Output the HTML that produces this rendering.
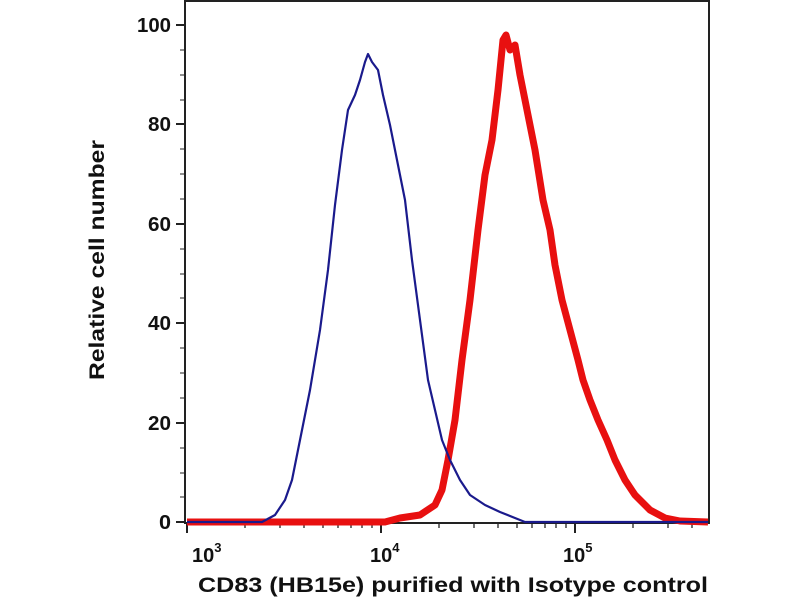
<!DOCTYPE html>
<html><head><meta charset="utf-8"><style>
html,body{margin:0;padding:0;background:#fff;}
svg text{font-family:"Liberation Sans",sans-serif;font-weight:bold;fill:#111;}
</style></head><body>
<svg width="800" height="600" viewBox="0 0 800 600" xmlns="http://www.w3.org/2000/svg">
<rect x="185" y="1" width="524" height="522" fill="none" stroke="#222" stroke-width="2"/>
<g stroke="#222" stroke-width="2">
<line x1="176" y1="25" x2="185" y2="25"/><line x1="176" y1="124" x2="185" y2="124"/>
<line x1="176" y1="224" x2="185" y2="224"/><line x1="176" y1="323" x2="185" y2="323"/>
<line x1="176" y1="423" x2="185" y2="423"/><line x1="176" y1="522" x2="185" y2="522"/>
</g>
<g stroke="#222" stroke-width="1">
<line x1="180" y1="50" x2="185" y2="50"/><line x1="180" y1="75" x2="185" y2="75"/><line x1="180" y1="100" x2="185" y2="100"/>
<line x1="180" y1="149" x2="185" y2="149"/><line x1="180" y1="174" x2="185" y2="174"/><line x1="180" y1="199" x2="185" y2="199"/>
<line x1="180" y1="249" x2="185" y2="249"/><line x1="180" y1="274" x2="185" y2="274"/><line x1="180" y1="298" x2="185" y2="298"/>
<line x1="180" y1="348" x2="185" y2="348"/><line x1="180" y1="373" x2="185" y2="373"/><line x1="180" y1="398" x2="185" y2="398"/>
<line x1="180" y1="448" x2="185" y2="448"/><line x1="180" y1="473" x2="185" y2="473"/><line x1="180" y1="497" x2="185" y2="497"/>
</g>
<g stroke="#222" stroke-width="2">
<line x1="187" y1="523" x2="187" y2="533"/><line x1="381" y1="523" x2="381" y2="533"/><line x1="575" y1="523" x2="575" y2="533"/>
</g>
<g stroke="#222" stroke-width="1.3">
<line x1="245" y1="523" x2="245" y2="528"/><line x1="280" y1="523" x2="280" y2="528"/><line x1="304" y1="523" x2="304" y2="528"/>
<line x1="323" y1="523" x2="323" y2="528"/><line x1="338" y1="523" x2="338" y2="528"/><line x1="351" y1="523" x2="351" y2="528"/>
<line x1="362" y1="523" x2="362" y2="528"/><line x1="372" y1="523" x2="372" y2="528"/>
<line x1="439" y1="523" x2="439" y2="528"/><line x1="474" y1="523" x2="474" y2="528"/><line x1="498" y1="523" x2="498" y2="528"/>
<line x1="517" y1="523" x2="517" y2="528"/><line x1="532" y1="523" x2="532" y2="528"/><line x1="545" y1="523" x2="545" y2="528"/>
<line x1="556" y1="523" x2="556" y2="528"/><line x1="566" y1="523" x2="566" y2="528"/>
<line x1="633" y1="523" x2="633" y2="528"/><line x1="668" y1="523" x2="668" y2="528"/><line x1="692" y1="523" x2="692" y2="528"/>
</g>
<g font-size="20">
<text x="137" y="32" textLength="34" lengthAdjust="spacingAndGlyphs">100</text>
<text x="148" y="131" textLength="23" lengthAdjust="spacingAndGlyphs">80</text>
<text x="148" y="231" textLength="23" lengthAdjust="spacingAndGlyphs">60</text>
<text x="148" y="330" textLength="23" lengthAdjust="spacingAndGlyphs">40</text>
<text x="148" y="430" textLength="23" lengthAdjust="spacingAndGlyphs">20</text>
<text x="159" y="529" textLength="12" lengthAdjust="spacingAndGlyphs">0</text>
</g>
<g font-size="20">
<text x="192" y="562">10<tspan font-size="13" dy="-10">3</tspan></text>
<text x="370" y="562">10<tspan font-size="13" dy="-10">4</tspan></text>
<text x="563" y="562">10<tspan font-size="13" dy="-10">5</tspan></text>
</g>
<text x="198" y="592" font-size="21" textLength="510" lengthAdjust="spacingAndGlyphs">CD83 (HB15e) purified with Isotype control</text>
<text transform="translate(104,380) rotate(-90)" font-size="21" textLength="240" lengthAdjust="spacingAndGlyphs">Relative cell number</text>
<polyline fill="none" stroke="#e81010" stroke-width="7" stroke-linejoin="round" points="187,522 385,522 400,518 420,515 435,505 442,490 448,460 455,420 462,360 470,300 478,230 485,175 492,140 498,90 503,40 506,35 510,50 515,45 520,75 527,110 535,150 543,200 550,230 555,265 562,300 570,330 578,360 583,380 590,400 598,420 607,440 615,460 625,480 635,495 650,510 665,518 680,521 708,522"/>
<polyline fill="none" stroke="#1a1a8c" stroke-width="2.2" stroke-linejoin="round" points="187,522 262,522 275,515 285,500 292,480 300,440 310,390 320,330 328,270 335,205 342,150 348,110 355,95 360,80 365,62 368,54 372,62 378,70 383,95 390,125 397,160 405,200 412,260 420,320 428,380 435,410 442,440 450,460 460,480 470,495 485,505 500,512 515,518 525,522 708,522"/>
</svg>
</body></html>
